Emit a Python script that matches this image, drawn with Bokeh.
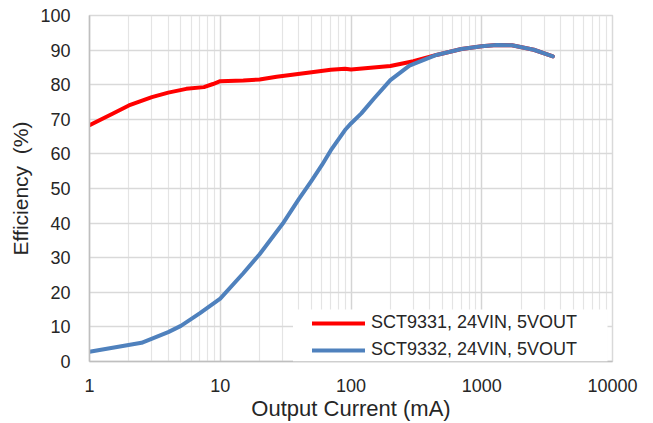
from bokeh.plotting import figure
from bokeh.models import FixedTicker, PrintfTickFormatter, BoxAnnotation, Legend, LegendItem
from bokeh.embed import file_html
from bokeh.resources import INLINE

# --- data ---
x_9331 = [1, 1.5, 2, 3, 4, 5.5, 7.5, 8.8, 10, 15, 20, 27, 50, 70, 90, 100, 200, 300, 450, 700, 1000, 1300, 1700, 2500, 3500]
y_9331 = [68.3, 71.6, 74.0, 76.4, 77.7, 78.8, 79.3, 80.2, 81.0, 81.2, 81.5, 82.3, 83.6, 84.3, 84.6, 84.4, 85.4, 86.8, 88.6, 90.3, 91.1, 91.5, 91.4, 90.1, 88.2]

x_9332 = [1, 2.5, 4, 5, 7, 10, 15, 20, 30, 40, 50, 60, 70, 90, 100, 120, 150, 200, 280, 450, 700, 1000, 1300, 1700, 2500, 3500]
y_9332 = [2.8, 5.4, 8.5, 10.3, 14.0, 18.2, 25.5, 31.0, 39.8, 47.0, 52.3, 56.8, 61.0, 66.9, 68.8, 71.7, 76.0, 81.3, 85.5, 88.6, 90.3, 91.1, 91.5, 91.4, 90.1, 88.2]

label_9331 = "SCT9331, 24VIN, 5VOUT"
label_9332 = "SCT9332, 24VIN, 5VOUT"
x_ticks = [1, 10, 100, 1000, 10000]
y_ticks = [0, 10, 20, 30, 40, 50, 60, 70, 80, 90, 100]

FONT = "Liberation Sans"
TXT = "#262626"

p = figure(width=653, height=423, x_axis_type="log", x_range=(1, 10000), y_range=(0, 100),
           output_backend="svg", toolbar_location=None,
           min_border_left=89, min_border_right=41, min_border_top=15, min_border_bottom=61)
p.background_fill_color = "white"
p.border_fill_color = "white"
p.outline_line_color = "#d9d9d9"
p.outline_line_width = 1.5

minor = [m * d for d in [1, 10, 100, 1000] for m in range(2, 10)]
p.xaxis.ticker = FixedTicker(ticks=x_ticks, minor_ticks=minor)
p.xaxis.formatter = PrintfTickFormatter(format="%d")
p.yaxis.ticker = FixedTicker(ticks=y_ticks)

for ax in (p.xaxis[0], p.yaxis[0]):
    ax.axis_line_color = "#bfbfbf"
    ax.axis_line_width = 1.5
    ax.major_tick_line_color = None
    ax.minor_tick_line_color = None
    ax.major_label_text_font = FONT
    ax.major_label_text_font_size = "18px"
    ax.major_label_text_color = TXT
    ax.axis_label_text_font = FONT
    ax.axis_label_text_font_style = "normal"
    ax.axis_label_text_color = TXT

p.xaxis.axis_label = "Output Current (mA)"
p.yaxis.axis_label = "Efficiency\u00a0 (%)"
p.xaxis.axis_label_text_font_size = "22px"
p.yaxis.axis_label_text_font_size = "21px"
p.xaxis.major_label_standoff = 11
p.yaxis.major_label_standoff = 13
p.xaxis.axis_label_standoff = 1
p.yaxis.axis_label_standoff = 5

p.xgrid.grid_line_color = "#d4d4d4"
p.xgrid.grid_line_width = 1.5
p.xgrid.minor_grid_line_color = "#e4e4e4"
p.xgrid.minor_grid_line_width = 1.2
p.ygrid.grid_line_color = "#d9d9d9"
p.ygrid.grid_line_width = 1.5

# white legend background patch
box = BoxAnnotation(left=36, right=9160, bottom=0, top=15, fill_color="white", fill_alpha=1.0,
                    line_color=None)
p.add_layout(box)

r1 = p.line(x_9331, y_9331, line_color="#ff0000", line_width=4, line_join="round", line_cap="round")
r2 = p.line(x_9332, y_9332, line_color="#4f81bd", line_width=4, line_join="round", line_cap="round")

legend = Legend(items=[LegendItem(label=label_9331, renderers=[r1]),
                       LegendItem(label=label_9332, renderers=[r2])],
                location=(223, 1), margin=0, padding=3, spacing=6,
                glyph_width=53, glyph_height=20, label_height=20, label_standoff=6,
                label_text_font=FONT, label_text_font_size="18px", label_text_color=TXT,
                background_fill_alpha=0, border_line_color=None)
p.add_layout(legend)

open("out.html", "w").write(file_html(p, INLINE))
